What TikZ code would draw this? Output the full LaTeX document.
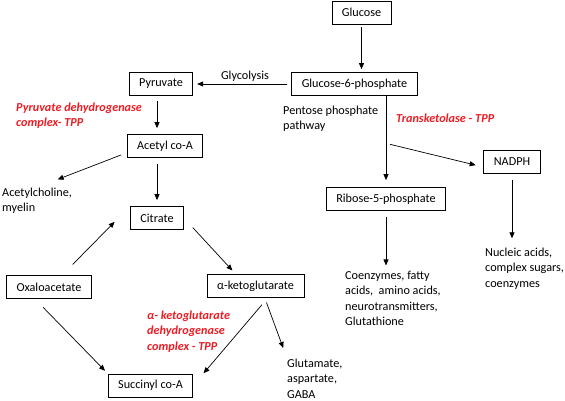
\documentclass[tikz,border=0pt]{standalone}
\usepackage{fontspec}
\setmainfont{Carlito}
\usepackage{xcolor}
\usetikzlibrary{arrows.meta}
\definecolor{enzymered}{RGB}{237,28,36}

\begin{document}
\begin{tikzpicture}[x=1pt, y=-1pt,
    box/.style={draw, line width=0.7pt, inner xsep=10pt, minimum height=23pt, font=\fontsize{12.2}{15.5}\selectfont},
    txt/.style={inner sep=0pt, align=left, anchor=base west, font=\fontsize{12.2}{15.5}\selectfont},
    enzyme/.style={txt, text=enzymered, font=\fontsize{12.2}{15.5}\selectfont\bfseries\itshape},
    arr/.style={->, >={Triangle[length=6pt, width=5pt]}, line width=0.7pt}]
            \useasboundingbox (0,0) rectangle (565,400);

            \node[box] (glucose)  at (361.5,12.5) {Glucose};
            \node[box] (g6p)      at (354.5,84)   {Glucose-6-phosphate};
            \node[box] (pyruvate) at (161,83.5)   {Pyruvate};
            \node[box] (acetyl)   at (165,146)    {Acetyl co-A};
            \node[box] (citrate)  at (157,218)    {Citrate};
            \node[box] (oxalo)    at (49,287)     {Oxaloacetate};
            \node[box] (akg)      at (255.5,286)  {α-ketoglutarate};
            \node[box] (succinyl) at (150.5,385.5) {Succinyl co-A};
            \node[box] (ribose)   at (386,199)    {Ribose-5-phosphate};
            \node[box] (nadph)    at (512,162)    {NADPH};

            % anchored on the baseline of the last line
            \node[txt, anchor=base] (glycolysis) at (245,79) {Glycolysis};
            \node[txt] (pentose)    at (283,129.5) {Pentose phosphate\\pathway};
            \node[txt] (ach)        at (2,211.5)   {Acetylcholine,\\myelin};
            \node[txt] (glutamate)  at (287,398)   {Glutamate,\\aspartate,\\GABA};
            \node[txt] (coenzymes)  at (345,325.5) {Coenzymes, fatty\\acids,\ \ amino acids,\\neurotransmitters,\\Glutathione};
            \node[txt] (nucleic)    at (485,287)   {Nucleic acids,\\complex sugars,\\coenzymes};

            \node[enzyme] (pdh)           at (16,126.5) {Pyruvate dehydrogenase\\complex- TPP};
            \node[enzyme] (transketolase) at (396,122)  {Transketolase - TPP};
            \node[enzyme] (akgdh)         at (147,350)  {α- ketoglutarate\\dehydrogenase\\complex - TPP};

            % glycolysis side
            \draw[arr, shorten <=3pt, shorten >=3pt] (glucose.south) -- (glucose.south |- g6p.north);
            \draw[arr, shorten <=4pt, shorten >=4pt] (g6p.west) -- (g6p.west -| pyruvate.east);
            \draw[arr, shorten <=6pt, shorten >=6pt] (pyruvate.south -| citrate) -- (acetyl.north -| citrate);
            \draw[arr, shorten <=6pt, shorten >=6pt] (acetyl.south -| citrate) -- (citrate.north);
            \draw[arr, shorten <=6pt, shorten >=22pt] (acetyl.190) -- (ach.north);

            % cycle
            \draw[arr, shorten <=15pt, shorten >=22pt] (oxalo.42) -- (citrate.north west);
            \draw[arr, shorten <=13pt, shorten >=5pt] (citrate.east) -- (akg.149);
            \draw[arr, shorten <=12pt, shorten >=4pt] (oxalo.220) -- (succinyl.north west);
            \draw[arr, shorten <=9pt, shorten >=16pt] (akg.316) -- (succinyl.east);
            \draw[arr, shorten <=5pt, shorten >=11pt] (akg.308) -- (glutamate.north west);

            % pentose phosphate side
            \draw[arr, shorten >=7pt] (ribose |- g6p.south) -- coordinate[pos=0.52] (branch) (ribose.north);
            \draw[arr, shorten <=4pt, shorten >=8pt] (branch) -- (nadph.190);
            \draw[arr, shorten <=6pt, shorten >=5pt] (ribose.south) -- (ribose.south |- coenzymes.north);
            \draw[arr, shorten <=6pt, shorten >=9pt] (nadph.south) -- (nadph.south |- nucleic.north);
\end{tikzpicture}
\end{document}
